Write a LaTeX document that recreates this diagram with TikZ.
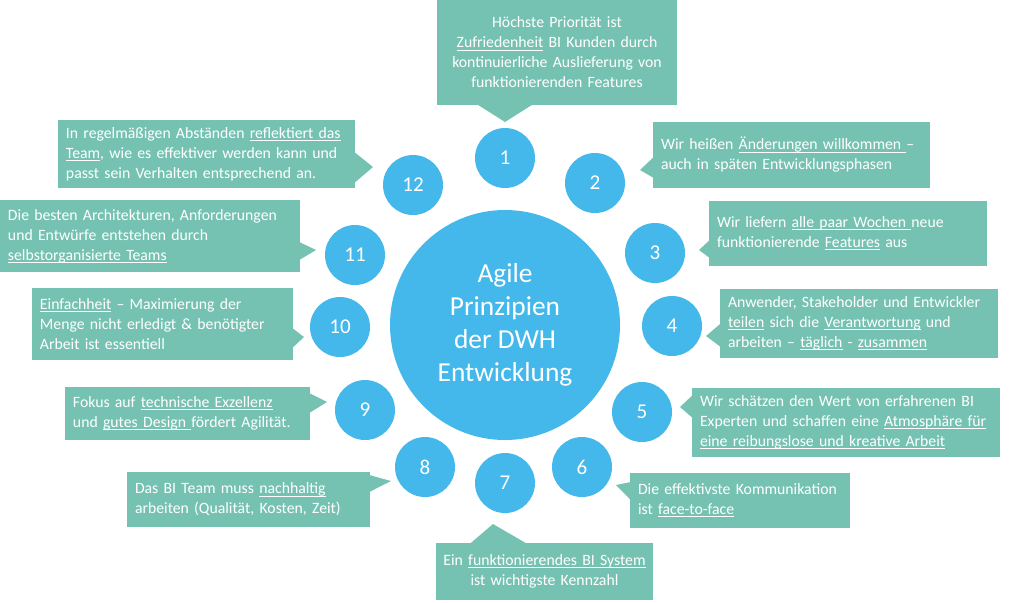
\documentclass[tikz,border=0pt]{standalone}
\usepackage{fontspec}
\setmainfont{Carlito}
\usepackage{tikz}
\definecolor{calloutteal}{HTML}{76C2B2}
\definecolor{dotblue}{HTML}{44B8EA}
\newcommand{\ulpart}[1]{\leavevmode\setbox0\hbox{#1}\rlap{\rule[-1.8pt]{\wd0}{0.6pt}}\box0\relax}
\hyphenpenalty=10000

\begin{document}
\begin{tikzpicture}[x=0.25mm,y=-0.25mm,
  callout/.style={rectangle,fill=calloutteal,text=white,inner xsep=2mm,inner ysep=0pt,align=left,font=\fontsize{11.2}{14.2}\selectfont},
  hub/.style={circle,fill=dotblue,text=white,minimum size=57.5mm,inner sep=0pt,align=center,font=\fontsize{19.5}{23.4}\selectfont},
  numdot/.style={circle,fill=dotblue,text=white,minimum size=15mm,inner sep=0pt,font=\fontsize{15}{18}\selectfont},
  tip/.style={fill=calloutteal}]
\useasboundingbox (0,0) rectangle (1024,602);

% middle
\node[name=Center,hub] at (505,325) {Agile\\Prinzipien\\der DWH\\Entwicklung};

% numbers round the middle
\node[name=Number-1,numdot] at (505,158) {1};
\node[name=Number-2,numdot] at (595,183) {2};
\node[name=Number-3,numdot] at (655,253) {3};
\node[name=Number-4,numdot] at (672,326) {4};
\node[name=Number-5,numdot] at (642,412) {5};
\node[name=Number-6,numdot] at (582,467) {6};
\node[name=Number-7,numdot] at (505,483) {7};
\node[name=Number-8,numdot] at (425,467) {8};
\node[name=Number-9,numdot] at (365,410) {9};
\node[name=Number-10,numdot] at (340,327) {10};
\node[name=Number-11,numdot] at (355,255) {11};
\node[name=Number-12,numdot] at (413,185) {12};

% the twelve principles
\node[name=Principle-1,callout,align=center,minimum width=60mm,minimum height=26.25mm,text width=56mm] at (557,52.5)
  {Höchste Priorität ist\\ \ulpart{Zufriedenheit} BI Kunden durch\\ kontinuierliche Auslieferung von\\ funktionierenden Features};
\node[name=Principle-2,callout,minimum width=69.25mm,minimum height=16.5mm,text width=65.25mm] at (791.5,155)
  {Wir heißen \ulpart{Änderungen willkommen\ }–\\ auch in späten Entwicklungsphasen};
\node[name=Principle-3,callout,minimum width=69.5mm,minimum height=16.25mm,text width=65.5mm] at (848,233.5)
  {Wir liefern \ulpart{alle paar Wochen\ }neue\\ funktionierende \ulpart{Features} aus};
\node[name=Principle-4,callout,minimum width=69.5mm,minimum height=17.25mm,text width=65.5mm] at (859,323.5)
  {Anwender, Stakeholder und Entwickler\\ \ulpart{teilen} sich die \ulpart{Verantwortung} und\\ arbeiten – \ulpart{täglich} - \ulpart{zusammen}};
\node[name=Principle-5,callout,minimum width=77mm,minimum height=17.25mm,text width=73mm] at (846,422.5)
  {Wir schätzen den Wert von erfahrenen BI\\ Experten und schaffen eine \ulpart{Atmosphäre für}\\ \ulpart{eine reibungslose und kreative Arbeit}};
\node[name=Principle-6,callout,minimum width=55mm,minimum height=13.75mm,text width=51mm] at (740,500.5)
  {Die effektivste Kommunikation\\ ist \ulpart{face-to-face}};
\node[name=Principle-7,callout,align=center,inner xsep=0.5mm,minimum width=54.25mm,minimum height=14.25mm,text width=53.25mm] at (544.5,571.5)
  {Ein \ulpart{funktionierendes BI System}\\ ist wichtigste Kennzahl};
\node[name=Principle-8,callout,minimum width=60.75mm,minimum height=13.75mm,text width=56.75mm] at (248.5,499.5)
  {Das BI Team muss \ulpart{nachhaltig}\\ arbeiten (Qualität, Kosten, Zeit)};
\node[name=Principle-9,callout,minimum width=61.25mm,minimum height=13.25mm,text width=57.25mm] at (187.5,413.5)
  {Fokus auf \ulpart{technische Exzellenz}\\ und \ulpart{gutes Design\ }fördert Agilität.};
\node[name=Principle-10,callout,minimum width=65.25mm,minimum height=18mm,text width=61.25mm] at (162.5,324)
  {\ulpart{Einfachheit} – Maximierung der\\ Menge nicht erledigt \& benötigter\\ Arbeit ist essentiell};
\node[name=Principle-11,callout,minimum width=75mm,minimum height=18mm,text width=71mm] at (150,236)
  {Die besten Architekturen, Anforderungen\\ und Entwürfe entstehen durch\\ \ulpart{selbstorganisierte Teams}};
\node[name=Principle-12,callout,minimum width=74.25mm,minimum height=17mm,text width=70.25mm] at (206.5,154)
  {In regelmäßigen Abständen \ulpart{reflektiert das}\\ \ulpart{Team}, wie es effektiver werden kann und\\ passt sein Verhalten entsprechend an.};

% tips of the callouts
\coordinate (Tip-1) at (505,122);
\coordinate (Tip-2) at (640,170);
\coordinate (Tip-3) at (699,250);
\coordinate (Tip-4) at (706,336);
\coordinate (Tip-5) at (680,407);
\coordinate (Tip-6) at (616,485);
\coordinate (Tip-7) at (493,524);
\coordinate (Tip-8) at (391,481);
\coordinate (Tip-9) at (327,402);
\coordinate (Tip-10) at (304,337);
\coordinate (Tip-11) at (316,250);
\coordinate (Tip-12) at (373,167);

\fill[tip] ([shift={(-80,-1)}]Principle-1.south) -- (Tip-1) -- ([shift={(-24,-1)}]Principle-1.south) -- cycle;
\fill[tip] ([shift={(1,2)}]Principle-2.west) -- (Tip-2) -- ([shift={(1,23)}]Principle-2.west) -- cycle;
\fill[tip] ([shift={(1,6.5)}]Principle-3.west) -- (Tip-3) -- ([shift={(1,24.5)}]Principle-3.west) -- cycle;
\fill[tip] ([shift={(1,0)}]Principle-4.west) -- (Tip-4) -- ([shift={(1,23.5)}]Principle-4.west) -- cycle;
\fill[tip] ([shift={(1,-27.5)}]Principle-5.west) -- (Tip-5) -- ([shift={(1,-4.5)}]Principle-5.west) -- cycle;
\fill[tip] ([shift={(1,-18.5)}]Principle-6.west) -- (Tip-6) -- ([shift={(1,-0.5)}]Principle-6.west) -- cycle;
\fill[tip] ([shift={(-74.5,1)}]Principle-7.north) -- (Tip-7) -- ([shift={(-17.5,1)}]Principle-7.north) -- cycle;
\fill[tip] ([shift={(-1,-24.5)}]Principle-8.east) -- (Tip-8) -- ([shift={(-1,-7.5)}]Principle-8.east) -- cycle;
\fill[tip] ([shift={(-1,-20.5)}]Principle-9.east) -- (Tip-9) -- ([shift={(-1,-0.5)}]Principle-9.east) -- cycle;
\fill[tip] ([shift={(-1,4)}]Principle-10.east) -- (Tip-10) -- ([shift={(-1,24)}]Principle-10.east) -- cycle;
\fill[tip] ([shift={(-1,6)}]Principle-11.east) -- (Tip-11) -- ([shift={(-1,24)}]Principle-11.east) -- cycle;
\fill[tip] ([shift={(-1,-2)}]Principle-12.east) -- (Tip-12) -- ([shift={(-1,29)}]Principle-12.east) -- cycle;
\end{tikzpicture}
\end{document}
